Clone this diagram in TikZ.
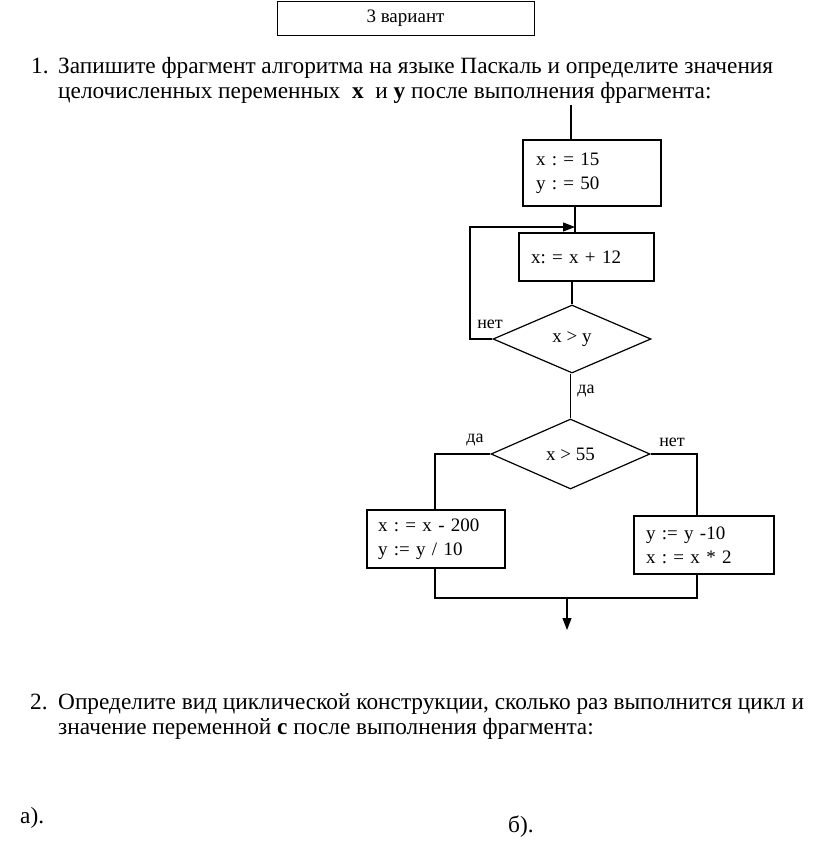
\documentclass[tikz,border=0pt]{standalone}
\usepackage{fontspec}
\setmainfont{Liberation Serif}
\frenchspacing
\usetikzlibrary{shapes.geometric,arrows.meta}
\tikzset{
  block/.style={draw,line width=1.2pt,inner sep=0pt,align=left,font=\fontsize{19}{24}\selectfont},
  cond/.style={draw,diamond,line width=1.2pt,inner sep=0pt,font=\fontsize{19}{24}\selectfont},
  flow/.style={line width=1.2pt},
  lbl/.style={font=\fontsize{18}{20}\selectfont,inner sep=0pt},
  body/.style={anchor=base west,inner sep=0pt,font=\fontsize{23.3}{25}\selectfont}
}
\begin{document}
\begin{tikzpicture}[x=1pt,y=-1pt]
    \useasboundingbox (0,0) rectangle (816,849);
    \node[draw,line width=1pt,minimum width=257pt,minimum height=34pt,font=\fontsize{19}{20}\selectfont] (title) at (405.5,18) {3 вариант};
    % task 1
    \node[body] (n1) at (31,73) {1.};
    \node[body] (t1a) at (58,73) {Запишите фрагмент алгоритма на языке Паскаль и определите значения};
    \node[body] (t1b) at (58,98) {целочисленных переменных \ \textbf{x} \ и \textbf{y} после выполнения фрагмента:};
    % flowchart
    \coordinate (top) at (571,105);
    \node[block,minimum width=138pt,minimum height=66pt,text width=112pt,inner xsep=13pt] (vars) at (592,173) {x : = 15\\y : = 50};
    \node[block,minimum width=135pt,minimum height=48pt,text width=111pt,inner xsep=12pt] (incr) at (586.5,257) {x: = x + 12};
    \node[cond,minimum width=158pt,minimum height=68pt] (loopchk) at (572,339) {x > y};
    \node[cond,minimum width=159pt,minimum height=70pt] (branch) at (570.5,454) {x > 55};
    \node[block,minimum width=138pt,minimum height=58pt,text width=116pt,inner xsep=11pt] (yesbox) at (436,539) {x : = x - 200\\y := y / 10};
    \node[block,minimum width=140pt,minimum height=58pt,text width=116pt,inner xsep=12pt] (nobox) at (704,545) {y := y -10\\x : = x * 2};
    \coordinate (join) at (575,227);
    \coordinate (back) at (470,339);
    \coordinate (lx) at (435,454);
    \coordinate (rx) at (697,454);
    \coordinate (merge) at (567,598);
    \coordinate (out) at (567,630);
    \draw[flow] (top) -- (top |- vars.north);
    \draw[flow] (vars.south -| join) -- (join |- incr.north);
    \draw[flow] (incr.south -| loopchk.north) -- (loopchk.north);
    \draw[flow,-{Triangle[width=9pt,length=12pt]}] (loopchk.west) -- (back) -- (back |- join) -- (join);
    \node[lbl] (no1) at (490,324) {нет};
    \draw[flow] (branch.north |- loopchk.south) -- (branch.north);
    \node[lbl] (yes1) at (586,391) {да};
    \draw[flow] (branch.west) -- (lx) -- (lx |- yesbox.north);
    \node[lbl] (yes2) at (475,440) {да};
    \draw[flow] (branch.east) -- (rx) -- (rx |- nobox.north);
    \node[lbl] (no2) at (672,442) {нет};
    \draw[flow] (lx |- yesbox.south) -- (lx |- merge) -- (rx |- merge) -- (rx |- nobox.south);
    \draw[flow,-{Triangle[width=9pt,length=12pt]}] (merge) -- (out);
    % task 2
    \node[body] (n2) at (30,709) {2.};
    \node[body] (t2a) at (58,709) {Определите вид циклической конструкции, сколько раз выполнится цикл и};
    \node[body] (t2b) at (58,734) {значение переменной \textbf{c} после выполнения фрагмента:};
    \node[body] (pa) at (20,823) {а).};
    \node[body] (pb) at (508,832) {б).};
\end{tikzpicture}
\end{document}
